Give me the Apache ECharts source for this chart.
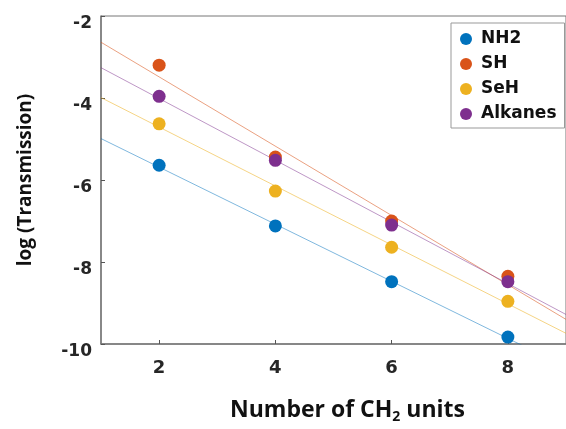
<!DOCTYPE html>
<html><head><meta charset="utf-8">
<script src="https://cdn.jsdelivr.net/npm/echarts@6/dist/echarts.min.js"></script>
<style>html,body{margin:0;padding:0;background:#fff}#c{width:566px;height:429px}</style>
</head><body><div id="c"></div>
<script>
const xValues = [2, 4, 6, 8];
const seriesNames = ['NH2', 'SH', 'SeH', 'Alkanes'];
const nh2 = [-5.64, -7.12, -8.48, -9.83];
const sh = [-3.20, -5.44, -7.00, -8.35];
const seh = [-4.63, -6.27, -7.64, -8.96];
const alkanes = [-3.96, -5.52, -7.10, -8.48];
// fitted lines read at x = 1 and x = 9
const fitX = [1, 9];
const fitNH2 = [-4.99, -10.56];
const fitSH = [-2.64, -9.40];
const fitSeH = [-3.99, -9.74];
const fitAlkanes = [-3.26, -9.28];
const xTicks = [2, 4, 6, 8];
const yTicks = [-10, -8, -6, -4, -2];

const colors = ['#0072BD', '#D95319', '#EDB120', '#7E2F8E'];
const lineColors = ['rgba(0,114,189,0.5)', 'rgba(217,83,25,0.55)', 'rgba(237,177,32,0.55)', 'rgba(126,47,142,0.5)'];
const pts = [nh2, sh, seh, alkanes];
const fits = [fitNH2, fitSH, fitSeH, fitAlkanes];

const series = [];
fits.forEach((f, i) => {
  series.push({
    type: 'line', name: seriesNames[i] + ' fit', data: fitX.map((x, j) => [x, f[j]]),
    showSymbol: false, symbol: 'none', clip: true, z: 1, silent: true,
    lineStyle: { color: lineColors[i], width: 1 }
  });
});
pts.forEach((p, i) => {
  series.push({
    type: 'scatter', name: seriesNames[i], data: xValues.map((x, j) => [x, p[j]]),
    symbolSize: 13, z: 3, itemStyle: { color: colors[i], opacity: 1 }
  });
});

const chart = echarts.init(document.getElementById('c'), null, { renderer: 'canvas' });
chart.setOption({
  animation: false,
  backgroundColor: '#fff',
  grid: { left: 101, top: 16, width: 469, height: 332, show: true, borderColor: '#777', borderWidth: 1, backgroundColor: 'transparent' },
  xAxis: {
    type: 'value', min: 1, max: 9, interval: 1,
    axisLine: { show: true, lineStyle: { color: '#777', width: 1.5 } },
    axisTick: { show: true, inside: true, length: 4, lineStyle: { color: '#555' }, customValues: xTicks },
    axisLabel: { show: true, customValues: xTicks, color: '#262626', fontFamily: 'DejaVu Sans', fontWeight: 'bold', fontSize: 18, margin: 15 },
    splitLine: { show: false },
    name: '{a|Number of CH}{s|2}{a| units}', nameLocation: 'middle', nameGap: 53,
    nameTextStyle: { padding: [0, 0, 0, 28], rich: {
      a: { fontFamily: 'Open Sans', fontWeight: 'bold', fontSize: 23, color: '#111' },
      s: { fontFamily: 'Open Sans', fontWeight: 'bold', fontSize: 14, color: '#111', verticalAlign: 'bottom', padding: [13, 0, 0, 0] }
    } }
  },
  yAxis: {
    type: 'value', min: -10, max: -2, interval: 2,
    axisLine: { show: true, lineStyle: { color: '#777', width: 1.5 } },
    axisTick: { show: true, inside: true, length: 4, lineStyle: { color: '#555' } },
    axisLabel: { color: '#262626', fontFamily: 'DejaVu Sans', fontWeight: 'bold', fontSize: 17, margin: 9, verticalAlign: 'top', lineHeight: 15 },
    splitLine: { show: false },
    name: 'log (Transmission)', nameLocation: 'middle', nameGap: 66, nameRotate: 90,
    nameTextStyle: { fontFamily: 'Open Sans', fontWeight: 'bold', fontSize: 19, color: '#111' }
  },
  legend: {
    data: seriesNames, orient: 'vertical', left: 451, top: 23,
    icon: 'circle', itemWidth: 12, itemHeight: 12, itemGap: 5,
    backgroundColor: '#fff', borderColor: '#999', borderWidth: 1, padding: [6, 8, 4, 9],
    textStyle: { fontFamily: 'DejaVu Sans', fontWeight: 'bold', fontSize: 17, lineHeight: 20, color: '#111', padding: [0, 0, 0, 4] }
  },
  series: series
});
</script></body></html>
